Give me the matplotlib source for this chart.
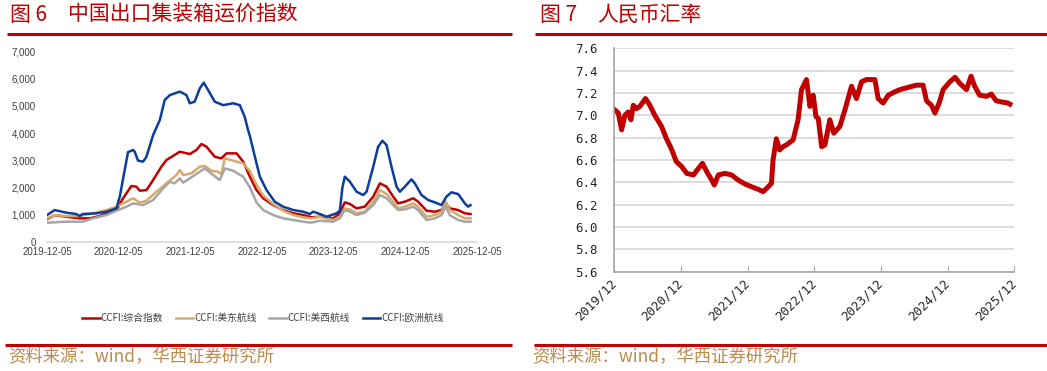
import matplotlib
matplotlib.use("Agg")
import matplotlib.pyplot as plt
import matplotlib.dates as mdates
import matplotlib.ticker as mticker
from matplotlib.lines import Line2D
import pandas as pd

plt.rcParams['font.family'] = ['Noto Sans CJK SC', 'DejaVu Sans']

# ---- 图6 CCFI data (weekly index) ----
comp_dates = ["2019-12-05", "2020-01-13", "2020-03-12", "2020-05-19", "2020-07-09", "2020-08-30",
              "2020-10-03", "2020-11-23", "2020-12-27", "2021-02-07", "2021-03-05", "2021-03-22",
              "2021-04-25", "2021-05-29", "2021-07-10", "2021-08-05", "2021-10-12", "2021-12-02",
              "2022-01-05", "2022-01-30", "2022-02-25", "2022-04-08", "2022-05-12", "2022-06-07",
              "2022-07-28", "2022-08-31", "2022-10-04", "2022-11-07", "2022-12-11", "2023-01-31",
              "2023-03-23", "2023-05-13", "2023-07-03", "2023-08-14", "2023-09-26", "2023-12-03",
              "2024-01-06", "2024-01-31", "2024-02-26", "2024-03-31", "2024-05-12", "2024-06-24",
              "2024-07-28", "2024-08-31", "2024-10-04", "2024-10-29", "2024-12-02", "2025-01-14",
              "2025-02-08", "2025-03-23", "2025-05-04", "2025-06-07", "2025-06-29", "2025-07-19",
              "2025-08-31", "2025-10-04", "2025-11-02"]
comp_vals = [830, 980, 920, 860, 860, 945, 1045, 1167, 1600, 2050, 2026, 1880,
             1900, 2270, 2763, 3010, 3315, 3230, 3380, 3600, 3500, 3130, 3070, 3255,
             3255, 2950, 2400, 1900, 1600, 1350, 1167, 1045, 982, 900, 920, 860,
             1045, 1450, 1390, 1228, 1290, 1660, 2150, 2026, 1660, 1412, 1474, 1600,
             1474, 1142, 1105, 1167, 1412, 1228, 1167, 1045, 1020]

useast_dates = ["2019-12-05", "2020-01-13", "2020-03-12", "2020-05-19", "2020-07-26", "2020-10-03",
                "2020-11-23", "2021-01-13", "2021-02-16", "2021-03-22", "2021-04-25", "2021-06-15",
                "2021-08-05", "2021-09-25", "2021-10-12", "2021-10-29", "2021-12-10", "2022-01-22",
                "2022-02-16", "2022-03-22", "2022-04-25", "2022-05-12", "2022-05-29", "2022-07-11",
                "2022-08-31", "2022-10-04", "2022-11-07", "2022-12-11", "2023-01-31", "2023-03-23",
                "2023-05-13", "2023-07-03", "2023-08-14", "2023-09-26", "2023-12-03", "2024-01-06",
                "2024-01-31", "2024-02-26", "2024-03-31", "2024-05-12", "2024-06-24", "2024-07-28",
                "2024-08-31", "2024-10-04", "2024-10-29", "2024-12-02", "2025-01-14", "2025-02-08",
                "2025-03-23", "2025-05-04", "2025-06-07", "2025-06-29", "2025-07-19", "2025-08-31",
                "2025-10-04", "2025-11-02"]
useast_vals = [860, 980, 945, 945, 1045, 1167, 1290, 1474, 1600, 1437, 1510, 1842,
               2150, 2456, 2640, 2456, 2517, 2763, 2790, 2616, 2580, 2480, 3070, 2985,
               2886, 2600, 2100, 1700, 1390, 1142, 982, 896, 860, 920, 798, 920,
               1228, 1190, 1045, 1105, 1474, 1900, 1756, 1474, 1228, 1290, 1412, 1290,
               920, 982, 1105, 1474, 1167, 982, 860, 860]

uswest_dates = ["2019-12-05", "2020-03-12", "2020-06-05", "2020-07-26", "2020-10-03", "2020-11-23",
                "2021-01-13", "2021-02-16", "2021-04-08", "2021-05-29", "2021-07-19", "2021-08-22",
                "2021-09-16", "2021-10-12", "2021-10-29", "2021-12-02", "2022-01-22", "2022-02-16",
                "2022-03-31", "2022-05-04", "2022-05-29", "2022-07-11", "2022-08-31", "2022-10-04",
                "2022-11-07", "2022-12-11", "2023-01-31", "2023-03-23", "2023-05-13", "2023-07-03",
                "2023-08-14", "2023-09-26", "2023-12-03", "2024-01-06", "2024-01-31", "2024-02-26",
                "2024-03-31", "2024-05-12", "2024-06-24", "2024-07-28", "2024-08-31", "2024-10-04",
                "2024-10-29", "2024-12-02", "2025-01-14", "2025-02-08", "2025-03-23", "2025-05-04",
                "2025-06-07", "2025-06-29", "2025-07-19", "2025-08-31", "2025-10-04", "2025-11-02"]
uswest_vals = [700, 737, 737, 860, 982, 1142, 1290, 1412, 1350, 1535, 1965, 2210,
               2150, 2333, 2175, 2333, 2580, 2700, 2456, 2270, 2700, 2616, 2395, 2000,
               1450, 1167, 982, 860, 798, 737, 700, 774, 737, 860, 1167, 1105,
               982, 1070, 1350, 1720, 1600, 1350, 1167, 1190, 1290, 1167, 798, 860,
               982, 1290, 982, 798, 737, 737]

europe_dates = ["2019-12-05", "2020-01-13", "2020-03-12", "2020-05-02", "2020-05-19", "2020-06-05",
                "2020-08-12", "2020-10-03", "2020-11-23", "2020-12-10", "2021-01-21", "2021-02-16",
                "2021-02-24", "2021-03-13", "2021-04-08", "2021-04-25", "2021-05-29", "2021-07-02",
                "2021-07-27", "2021-08-22", "2021-10-12", "2021-11-15", "2021-12-02", "2021-12-27",
                "2022-01-22", "2022-02-11", "2022-03-05", "2022-04-08", "2022-05-21", "2022-07-11",
                "2022-08-14", "2022-09-08", "2022-09-25", "2022-10-04", "2022-10-29", "2022-11-24",
                "2022-12-28", "2023-02-08", "2023-03-23", "2023-05-13", "2023-07-03", "2023-08-06",
                "2023-08-23", "2023-09-26", "2023-10-30", "2023-11-24", "2023-12-20", "2024-01-06",
                "2024-01-19", "2024-01-31", "2024-02-26", "2024-03-31", "2024-05-04", "2024-05-21",
                "2024-06-24", "2024-07-19", "2024-08-10", "2024-08-31", "2024-09-25", "2024-10-21",
                "2024-11-07", "2024-12-02", "2025-01-05", "2025-01-22", "2025-02-25", "2025-03-31",
                "2025-05-04", "2025-06-07", "2025-07-02", "2025-07-28", "2025-08-31", "2025-10-04",
                "2025-10-21", "2025-11-02"]
europe_vals = [980, 1166, 1070, 1020, 950, 1020, 1045, 1105, 1228, 1660, 3300, 3380,
               3315, 2985, 2950, 3130, 3930, 4480, 5220, 5400, 5530, 5400, 5100, 5160,
               5650, 5860, 5590, 5160, 5030, 5100, 5030, 4600, 4110, 3900, 3150, 2400,
               1900, 1474, 1290, 1167, 1105, 1020, 1105, 1020, 920, 982, 1045, 1150,
               2000, 2395, 2210, 1842, 1720, 1842, 2763, 3500, 3720, 3560, 2763, 2026,
               1842, 2026, 2296, 2150, 1720, 1535, 1450, 1350, 1660, 1820, 1756, 1412,
               1290, 1350]

ccfi_labels = ["CCFI:综合指数", "CCFI:美东航线", "CCFI:美西航线", "CCFI:欧洲航线"]
ccfi_colors = ["#c00000", "#d8aa6a", "#a6a6a6", "#0d3d9c"]
ccfi_ticks = ["2019-12-05", "2020-12-05", "2021-12-05", "2022-12-05",
              "2023-12-05", "2024-12-05", "2025-12-05"]

# ---- 图7 人民币汇率 (USD/CNY) ----
cny_dates = ["2019-12-02", "2019-12-23", "2020-01-10", "2020-01-28", "2020-02-15", "2020-03-01",
             "2020-03-14", "2020-04-01", "2020-04-19", "2020-05-20", "2020-06-13", "2020-07-10",
             "2020-08-16", "2020-09-12", "2020-10-09", "2020-11-05", "2020-12-05", "2021-01-01",
             "2021-02-07", "2021-03-06", "2021-03-28", "2021-04-21", "2021-05-18", "2021-06-01",
             "2021-06-23", "2021-07-29", "2021-09-04", "2021-10-10", "2021-11-16", "2021-12-23",
             "2022-01-28", "2022-02-24", "2022-03-23", "2022-04-10", "2022-04-19", "2022-05-07",
             "2022-05-25", "2022-06-13", "2022-07-01", "2022-08-07", "2022-09-03", "2022-09-22",
             "2022-10-19", "2022-11-07", "2022-11-25", "2022-12-10", "2022-12-23", "2023-01-10",
             "2023-01-28", "2023-02-24", "2023-03-18", "2023-04-20", "2023-05-18", "2023-06-23",
             "2023-07-20", "2023-08-17", "2023-09-13", "2023-10-29", "2023-11-16", "2023-12-13",
             "2024-01-10", "2024-02-15", "2024-03-14", "2024-04-28", "2024-06-13", "2024-07-19",
             "2024-08-07", "2024-09-03", "2024-09-22", "2024-10-15", "2024-11-06", "2024-12-13",
             "2025-01-10", "2025-02-06", "2025-03-14", "2025-04-08", "2025-04-28", "2025-05-25",
             "2025-07-01", "2025-07-28", "2025-08-24", "2025-09-21", "2025-10-27", "2025-11-07"]
cny_vals = [7.05, 7.02, 6.87, 7.00, 7.03, 6.96, 7.09, 7.06, 7.08, 7.15, 7.09, 7.00,
            6.90, 6.79, 6.70, 6.585, 6.54, 6.48, 6.466, 6.525, 6.57, 6.495, 6.42, 6.376,
            6.466, 6.48, 6.466, 6.42, 6.385, 6.36, 6.337, 6.316, 6.36, 6.39, 6.60, 6.79,
            6.69, 6.72, 6.735, 6.78, 6.96, 7.23, 7.32, 7.08, 7.18, 6.99, 6.97, 6.72,
            6.735, 6.96, 6.84, 6.90, 7.05, 7.26, 7.15, 7.30, 7.32, 7.32, 7.15, 7.11,
            7.18, 7.21, 7.23, 7.25, 7.27, 7.27, 7.13, 7.09, 7.02, 7.11, 7.23, 7.30,
            7.34, 7.285, 7.23, 7.35, 7.26, 7.18, 7.17, 7.19, 7.13, 7.12, 7.11, 7.10]
cny_ticks = ["2019-12-01", "2020-12-01", "2021-12-01", "2022-12-01",
             "2023-12-01", "2024-12-01", "2025-12-01"]

W, H = 1047, 371
RED = "#c00000"
SRC = "#b98c4f"


def fx(x):
    return x / W


def fy(y):
    return 1 - y / H


def hline(fig, x0, x1, y, lw=2.2):
    fig.add_artist(Line2D([fx(x0), fx(x1)], [fy(y), fy(y)], transform=fig.transFigure,
                          color=RED, lw=lw, solid_capstyle='butt'))


fig = plt.figure(figsize=(W / 100, H / 100), dpi=100)

# headers and footers
title_kw = dict(color=RED, fontsize=15, va='center', fontweight='light')
fig.text(fx(10), fy(15), "图 6", **title_kw)
fig.text(fx(68), fy(15), "中国出口集装箱运价指数", **title_kw)
fig.text(fx(540), fy(15), "图 7", **title_kw)
fig.text(fx(597), fy(15), "人民币汇率", **title_kw)
hline(fig, 7, 512, 33.7)
hline(fig, 535, 1047, 33.7)
hline(fig, 5, 512, 344.7)
hline(fig, 534, 1047, 344.8)
src_kw = dict(color=SRC, fontsize=12.5, va='center', fontweight='light')
fig.text(fx(8), fy(357), "资料来源：wind，华西证券研究所", **src_kw)
fig.text(fx(532), fy(357), "资料来源：wind，华西证券研究所", **src_kw)

# ---- left chart ----
ax1 = fig.add_axes([fx(47), fy(241.7), fx(477) - fx(47), fy(51.7) - fy(241.7)])
series = [(comp_dates, comp_vals), (useast_dates, useast_vals),
          (uswest_dates, uswest_vals), (europe_dates, europe_vals)]
for (d, v), lab, col in zip(series, ccfi_labels, ccfi_colors):
    ax1.plot(pd.to_datetime(d), v, color=col, lw=1.8, label=lab)

ax1.set_xlim(pd.Timestamp("2019-12-05"), pd.Timestamp("2025-12-05"))
ax1.set_ylim(0, 7000)
ax1.set_yticks(range(0, 7001, 1000))
ax1.yaxis.set_major_formatter(mticker.FuncFormatter(lambda v, p: f"{int(v):,}"))
ax1.set_xticks(pd.to_datetime(ccfi_ticks))
ax1.set_xticklabels(ccfi_ticks)
for s in ["top", "right", "left"]:
    ax1.spines[s].set_visible(False)
ax1.spines["bottom"].set_color("#d9d9d9")
ax1.spines["bottom"].set_linewidth(1.2)
ax1.tick_params(axis='both', length=0, labelcolor="#404040")
ax1.tick_params(axis='y', pad=8)
ax1.tick_params(axis='x', pad=4)
for t in ax1.get_xticklabels() + ax1.get_yticklabels():
    t.set_fontfamily("Liberation Sans")
    t.set_fontsize(7)

leg = ax1.legend(loc='center', bbox_to_anchor=(fx(263), fy(318)), bbox_transform=fig.transFigure,
                 ncol=4, frameon=False, prop={'size': 7, 'weight': 'light'},
                 handlelength=1.8, handletextpad=0.1, columnspacing=1.3)
for t in leg.get_texts():
    t.set_color("#404040")

# ---- right chart ----
ax2 = fig.add_axes([fx(614.3), fy(271.7), fx(1014.3) - fx(614.3), fy(48.3) - fy(271.7)])
ax2.plot(pd.to_datetime(cny_dates), cny_vals, color=RED, lw=3.6, solid_joinstyle='round')
ax2.set_xlim(pd.Timestamp("2019-12-01"), pd.Timestamp("2025-12-01"))
ax2.set_ylim(5.6, 7.6)
ax2.set_yticks([5.6 + 0.2 * i for i in range(11)])
ax2.yaxis.set_major_formatter(mticker.FormatStrFormatter("%.1f"))
ax2.set_xticks(pd.to_datetime(cny_ticks))
ax2.xaxis.set_major_formatter(mdates.DateFormatter("%Y/%m"))
ax2.grid(axis='y', color="#d9d9d9", lw=1.3)
ax2.set_axisbelow(True)
for s in ["top", "right"]:
    ax2.spines[s].set_visible(False)
for s in ["left", "bottom"]:
    ax2.spines[s].set_color("#a6a6a6")
    ax2.spines[s].set_linewidth(1.2)
ax2.tick_params(axis='y', length=0, pad=12, labelcolor="#262626")
ax2.tick_params(axis='x', direction='in', length=4, color="#a6a6a6", pad=7, labelcolor="#262626")
for t in ax2.get_yticklabels():
    t.set_fontfamily("DejaVu Sans Mono")
    t.set_fontsize(9)
for t in ax2.get_xticklabels():
    t.set_fontfamily("DejaVu Sans Mono")
    t.set_fontsize(9)
    t.set_rotation(45)
    t.set_ha('right')
    t.set_va('center')
    t.set_rotation_mode('anchor')

fig.savefig("out.png", dpi=100)
